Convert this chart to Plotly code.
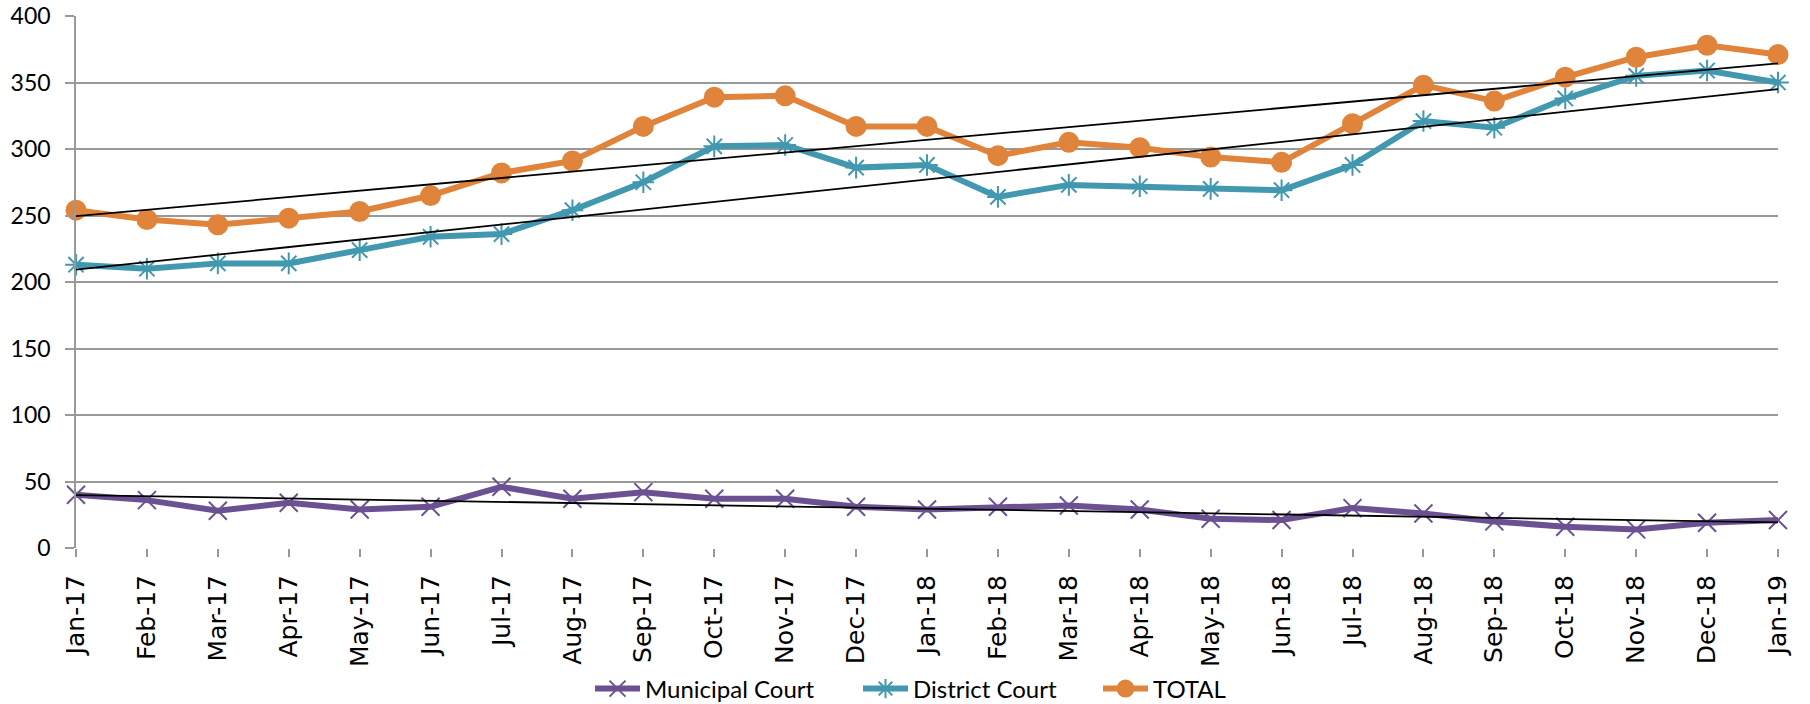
import numpy as np
import plotly.graph_objects as go

months = ["Jan-17", "Feb-17", "Mar-17", "Apr-17", "May-17", "Jun-17", "Jul-17", "Aug-17",
          "Sep-17", "Oct-17", "Nov-17", "Dec-17", "Jan-18", "Feb-18", "Mar-18", "Apr-18",
          "May-18", "Jun-18", "Jul-18", "Aug-18", "Sep-18", "Oct-18", "Nov-18", "Dec-18", "Jan-19"]

municipal = [40, 36, 28, 34, 29, 31, 46, 37, 42, 37, 37, 31, 29, 31, 32, 29,
             22, 21, 30, 26, 20, 16, 14, 19, 21]
district = [213, 210, 214, 214, 224, 234, 236, 254, 275, 302, 303, 286, 288, 264, 273, 272,
            270, 269, 288, 321, 316, 338, 355, 359, 350]
total = [254, 247, 243, 248, 253, 265, 282, 291, 317, 339, 340, 317, 317, 295, 305, 301,
         294, 290, 319, 348, 336, 354, 369, 378, 371]

series = [
    ("Municipal Court", municipal, "#6B5192", "x-thin-open", 18, "legend"),
    ("District Court", district, "#4198AF", "asterisk-open", 18, "legend2"),
    ("TOTAL", total, "#E0843B", "circle", 19, "legend3"),
]

fig = go.Figure()
idx = np.arange(len(months))
for name, vals, color, sym, size, leg in series:
    fig.add_trace(go.Scatter(
        x=months, y=vals, name=name, mode="lines+markers",
        line=dict(color=color, width=6),
        marker=dict(symbol=sym, size=size, color=color,
                    line=dict(color=color, width=2)),
        cliponaxis=False, legend=leg,
    ))

# linear trendlines (least-squares fit of each series, as in the source chart)
for name, vals, color, sym, size, leg in series:
    slope, intercept = np.polyfit(idx, vals, 1)
    fig.add_trace(go.Scatter(
        x=[months[0], months[-1]],
        y=[intercept, intercept + slope * idx[-1]],
        mode="lines", line=dict(color="black", width=1.8),
        showlegend=False, hoverinfo="skip", cliponaxis=False,
    ))

W, H = 1810, 704
legend_left = [590, 858, 1098]


def leg(px):
    return dict(orientation="h", xref="container", yref="container",
                x=px / W, xanchor="left", y=15 / H, yanchor="middle",
                font=dict(family="Lato", size=24, color="black"),
                itemwidth=45, bgcolor="rgba(0,0,0,0)")


fig.update_layout(
    width=W, height=H,
    margin=dict(l=76, r=32, t=16, b=156, autoexpand=False),
    paper_bgcolor="white", plot_bgcolor="white",
    showlegend=True,
    legend=leg(legend_left[0]),
    legend2=leg(legend_left[1]),
    legend3=leg(legend_left[2]),
    xaxis=dict(
        type="category", range=[0, len(months) - 1], automargin=False,
        tickangle=-90, ticks="outside", ticklen=8, tickcolor="#999999", tickwidth=1.5,
        ticklabelstandoff=8,
        showgrid=False, showline=False, zeroline=False,
        tickfont=dict(family="DejaVu Sans", size=25, color="black"),
    ),
    yaxis=dict(
        range=[0, 400], dtick=50, ticks="outside", ticklen=9, tickcolor="#999999", tickwidth=1.5,
        automargin=False, ticklabelstandoff=10,
        showgrid=True, gridcolor="#999999", gridwidth=1.5,
        showline=True, linecolor="#999999", linewidth=1.5, zeroline=False,
        tickfont=dict(family="Lato", size=23, color="black"),
    ),
)

fig.write_html("out.html", config={"displayModeBar": False},
               post_script="document.body.style.margin='0px';")
